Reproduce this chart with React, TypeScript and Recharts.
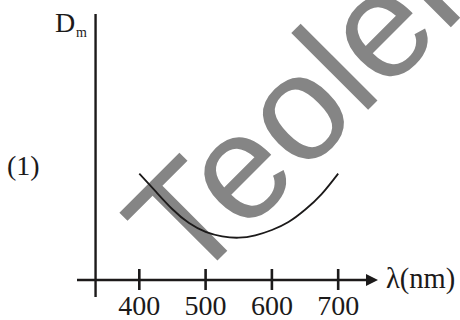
import { Customized, Line, LineChart, ReferenceDot, ReferenceLine, XAxis, YAxis } from 'recharts';

// wavelength (nm) and the minimum deviation
const lambda = [400, 425, 450, 475, 500, 525, 550, 575, 600, 625, 650, 675, 700];
const dm = [4.0, 3.32, 2.66, 2.14, 1.81, 1.64, 1.59, 1.68, 1.88, 2.18, 2.64, 3.23, 4.0];
const xTicks = [400, 500, 600, 700];

const data = lambda.map((l, i) => ({ lambda: l, dm: dm[i] }));

const ink = '#1c1a1a';
const serif = '"Liberation Serif", "Times New Roman", serif';

const XTick = ({ x, y, payload }: any) => (
  <g>
    <line x1={x} x2={x} y1={y - 11} y2={y + 10} stroke={ink} strokeWidth={2.6} />
    <text x={x} y={y + 35} textAnchor='middle' fontFamily={serif} fontSize={28} fill={ink}>
      {payload.value}
    </text>
  </g>
);

const Arrow = ({ cx, cy }: any) => (
  <path d={`M${cx - 4},${cy - 6} L${cx + 8},${cy} L${cx - 4},${cy + 6} Z`} fill={ink} />
);

const Texts = () => (
  <g fontFamily={serif} fill={ink}>
    <text x={55} y={32} fontSize={28}>D</text>
    <text x={76} y={37} fontSize={14}>m</text>
    <text x={7} y={175} fontSize={28}>(1)</text>
    <text x={386} y={288} fontSize={28.5}>λ(nm)</text>
  </g>
);

export default function App() {
  return (
    <div style={{ position: 'absolute', left: 0, top: 0, width: 460, height: 320, background: '#fff' }}>
      {/* watermark sits under the chart */}
      <svg width={460} height={320} style={{ position: 'absolute', left: 0, top: 0 }}>
        <text
          x={190}
          y={288}
          transform='rotate(-45 190 288)'
          fontFamily='"Liberation Sans", Arial, sans-serif'
          fontSize={150}
          fill='#858585'
        >
          Teoler
        </text>
      </svg>
      <div style={{ position: 'absolute', left: 0, top: 0 }}>
        <LineChart width={460} height={320} data={data} margin={{ top: 14, right: 90, bottom: 0, left: 77 }}>
          <XAxis
            dataKey='lambda'
            type='number'
            domain={[306, 748]}
            ticks={xTicks}
            interval={0}
            tickSize={0}
            tickMargin={0}
            height={40}
            axisLine={{ stroke: ink, strokeWidth: 2.6 }}
            tick={<XTick />}
          />
          <YAxis hide type='number' domain={[0, 10]} allowDataOverflow />
          <ReferenceLine
            segment={[{ x: 334, y: 10 }, { x: 334, y: -0.64 }]}
            ifOverflow='visible'
            stroke={ink}
            strokeWidth={2.4}
          />
          <ReferenceDot x={748} y={0} ifOverflow='visible' shape={<Arrow />} />
          <Line type='natural' dataKey='dm' stroke={ink} strokeWidth={1.8} dot={false} isAnimationActive={false} />
          <Customized component={Texts} />
        </LineChart>
      </div>
    </div>
  );
}
